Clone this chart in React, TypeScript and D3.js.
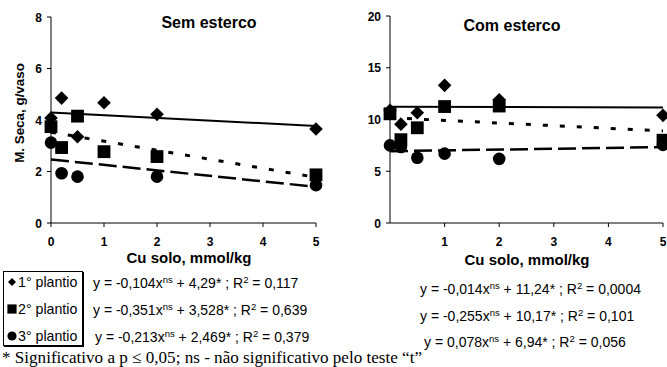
import * as d3 from "d3";
import React from "react";

// Cu solo doses (mmol/kg)
const doses = [0, 0.2, 0.5, 1, 2, 5];

// Sem esterco
const semP1 = [4.08, 4.85, 3.35, 4.67, 4.22, 3.65];
const semP2 = [3.74, 2.93, 4.15, 2.77, 2.58, 1.87];
const semP3 = [3.12, 1.93, 1.8, null, 1.8, 1.47];

// Com esterco
const comP1 = [10.9, 9.55, 10.65, 13.3, 11.9, 10.4];
const comP2 = [10.55, 8.05, 9.2, 11.25, 11.3, 8.0];
const comP3 = [7.5, 7.35, 6.3, 6.7, 6.2, 7.55];

// regression coefficients [slope, intercept]
const semFits = [[-0.104, 4.29], [-0.351, 3.528], [-0.213, 2.469]];
const comFits = [[-0.014, 11.24], [-0.255, 10.17], [0.078, 6.94]];

const semEqs = [
  ["y = -0,104x", " + 4,29* ; R", " = 0,117"],
  ["y = -0,351x", " + 3,528* ; R", " = 0,639"],
  ["y = -0,213x", " + 2,469* ; R", " = 0,379"],
];
const comEqs = [
  ["y = -0,014x", " + 11,24* ; R", " = 0,0004"],
  ["y = -0,255x", " + 10,17* ; R", " = 0,101"],
  ["y = 0,078x", " + 6,94* ;  R", " = 0,056"],
];

const legendLabels = ["1° plantio", "2° plantio", "3° plantio"];
const semTicksY = [0, 2, 4, 6, 8];
const comTicksY = [0, 5, 10, 15, 20];
const semTicksX = [0, 1, 2, 3, 4, 5];
const comTicksX = [1, 2, 3, 4, 5];

const dashes = [null, "5 12", "18 6"];
const widths = [2, 3, 2.5];
const font = "Arial, 'Liberation Sans', sans-serif";

function Marker({ kind, x, y, s = 6.5 }) {
  if (kind === 0)
    return <path d={`M${x},${y - s}L${x + s},${y}L${x},${y + s}L${x - s},${y}Z`} fill="#000" />;
  if (kind === 1) return <rect x={x - s} y={y - s} width={2 * s} height={2 * s} fill="#000" />;
  return <circle cx={x} cy={y} r={s} fill="#000" />;
}

function Panel({ x0, x1, y0, y1, ymax, ticksY, ticksX, series, fits, title, titleX, titleY }) {
  const x = d3.scaleLinear().domain([0, 5]).range([x0, x1]);
  const y = d3.scaleLinear().domain([0, ymax]).range([y1, y0]);
  const sizes = [6.8, 6.4, 6.3];
  return (
    <g fontFamily={font} fontWeight="bold">
      <text x={titleX} y={titleY} fontSize={16} textAnchor="middle">{title}</text>
      <line x1={x0} x2={x0} y1={y0} y2={y1} stroke="#000" />
      <line x1={x0} x2={x1} y1={y1} y2={y1} stroke="#000" />
      {ticksY.map((t) => (
        <g key={t}>
          <line x1={x0 - 4} x2={x0} y1={y(t)} y2={y(t)} stroke="#000" />
          <text x={x0 - 9} y={y(t) + 4.5} fontSize={12} textAnchor="end">{t}</text>
        </g>
      ))}
      {ticksX.map((t) => (
        <g key={t}>
          <line x1={x(t)} x2={x(t)} y1={y1} y2={y1 + 4} stroke="#000" />
          <text x={x(t)} y={y1 + 23} fontSize={12} textAnchor="middle">{t}</text>
        </g>
      ))}
      {fits.map(([a, b], i) => (
        <line key={i} x1={x(0)} x2={x(5)} y1={y(b)} y2={y(a * 5 + b)} stroke="#000"
          strokeWidth={widths[i]} strokeDasharray={dashes[i] || undefined} />
      ))}
      {series.map((vals, k) =>
        vals.map((v, i) => (v == null ? null : <Marker key={`${k}-${i}`} kind={k} x={x(doses[i])} y={y(v)} s={sizes[k]} />))
      )}
    </g>
  );
}

function Equations({ xs, eqs, ys }) {
  return (
    <g fontFamily={font} fontSize={14}>
      {eqs.map((e, i) => (
        <text key={i} x={xs[i]} y={ys[i]}>
          {e[0]}
          <tspan fontSize={9.5} dy={-5}>ns</tspan>
          <tspan dy={5}>{e[1]}</tspan>
          <tspan fontSize={9.5} dy={-5}>2</tspan>
          <tspan dy={5}>{e[2]}</tspan>
        </text>
      ))}
    </g>
  );
}

export default function App() {
  const legY = [287, 314, 341];
  return (
    <svg width={667} height={367} style={{ position: "absolute", left: 0, top: 0, background: "#fff" }}>
      <Panel x0={51} x1={316} y0={17} y1={223} ymax={8} ticksY={semTicksY} ticksX={semTicksX}
        series={[semP1, semP2, semP3]} fits={semFits} title="Sem esterco" titleX={209} titleY={28} />
      <Panel x0={390} x1={663} y0={16} y1={223} ymax={20} ticksY={comTicksY} ticksX={comTicksX}
        series={[comP1, comP2, comP3]} fits={comFits} title="Com esterco" titleX={512} titleY={31} />
      <text transform="translate(24,113) rotate(-90)" fontFamily={font} fontWeight="bold" fontSize={13.4}
        textAnchor="middle">M. Seca, g/vaso</text>
      <text x={189} y={263} fontFamily={font} fontWeight="bold" fontSize={15} textAnchor="middle">Cu solo, mmol/kg</text>
      <text x={527} y={265} fontFamily={font} fontWeight="bold" fontSize={15} textAnchor="middle">Cu solo, mmol/kg</text>

      <rect x={3.5} y={271.5} width={79} height={74} fill="#fff" stroke="#000" />
      <line x1={83.5} x2={83.5} y1={272} y2={347} stroke="#000" />
      <line x1={4} x2={84} y1={346.5} y2={346.5} stroke="#000" />
      {legendLabels.map((l, i) => (
        <g key={l}>
          <Marker kind={i} x={12} y={legY[i] - 5} s={i === 0 ? 4 : 4.6} />
          <text x={18} y={legY[i]} fontFamily={font} fontSize={14.2}>{l}</text>
        </g>
      ))}
      <Equations xs={[93, 93, 95]} eqs={semEqs} ys={[288, 315, 342]} />
      <Equations xs={[420, 420, 424]} eqs={comEqs} ys={[294, 321, 347]} />
      <text x={2} y={363} fontFamily="'Liberation Serif', 'Times New Roman', serif" fontSize={17.1}>
        * Significativo a p ≤ 0,05; ns - não significativo pelo teste “t”
      </text>
    </svg>
  );
}
